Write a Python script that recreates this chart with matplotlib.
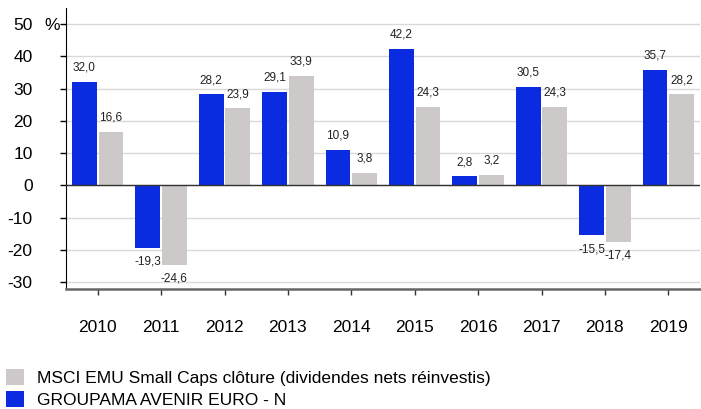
import matplotlib
matplotlib.use("Agg")
import matplotlib.pyplot as plt
import numpy as np

plt.rcParams['font.family'] = ['Liberation Sans', 'DejaVu Sans']

years = ["2010", "2011", "2012", "2013", "2014", "2015", "2016", "2017", "2018", "2019"]
fund = [32.0, -19.3, 28.2, 29.1, 10.9, 42.2, 2.8, 30.5, -15.5, 35.7]
bench = [16.6, -24.6, 23.9, 33.9, 3.8, 24.3, 3.2, 24.3, -17.4, 28.2]
fund_name = "GROUPAMA AVENIR EURO - N"
bench_name = "MSCI EMU Small Caps clôture (dividendes nets réinvestis)"
yticks = [-30, -20, -10, 0, 10, 20, 30, 40, 50]

BLUE = "#0b2be0"
GRAY = "#cdc9c8"

fig = plt.figure(figsize=(7.01, 4.09), dpi=100)
ax = fig.add_axes([66/701, 1-289/409, 634/701, 281/409])

x = np.arange(len(years))
w = 0.39
b1 = ax.bar(x - 0.21, fund, w, color=BLUE, zorder=3)
b2 = ax.bar(x + 0.21, bench, w, color=GRAY, zorder=3)

def fmt(v):
    return f"{v:.1f}".replace(".", ",")

for bars, vals in ((b1, fund), (b2, bench)):
    for r, v in zip(bars, vals):
        cx = r.get_x() + r.get_width() / 2
        if v >= 0:
            ax.annotate(fmt(v), (cx, v), xytext=(0, 6), textcoords="offset points",
                        ha="center", va="bottom", fontsize=8.5, color="#222222")
        else:
            ax.annotate(fmt(v), (cx, v), xytext=(0, -5.5), textcoords="offset points",
                        ha="center", va="top", fontsize=8.5, color="#222222")

ax.set_xlim(-0.5, len(years) - 0.5)
ax.set_ylim(-32.1, 55)
ax.set_yticks(yticks)
ax.set_yticklabels([str(t) for t in yticks], fontsize=12.5)
ax.set_xticks(x)
ax.set_xticklabels(years, fontsize=12.5)
ax.tick_params(axis="y", length=4, pad=20, width=1)
ax.tick_params(axis="x", length=4, pad=18, width=1, color="#333333")
ax.grid(axis="y", color="#d9d9d9", linewidth=1, zorder=0)
ax.axhline(0, color="#333333", linewidth=1, zorder=4)
for s in ("top", "right"):
    ax.spines[s].set_visible(False)
ax.spines["left"].set_color("black")
ax.spines["bottom"].set_color("#666666")
ax.spines["bottom"].set_linewidth(1.8)

fig.text(52/701, 1-25/409, "%", fontsize=12.5, ha="center", va="center")

leg = fig.legend([b2, b1], [bench_name, fund_name], loc="upper left",
                 bbox_to_anchor=(4/701, 1-367/409), frameon=False, fontsize=12.5,
                 handlelength=1.05, handleheight=1.05, labelspacing=0.3,
                 handletextpad=0.75, borderaxespad=0, borderpad=0.1)

fig.savefig("out.png", dpi=100)
